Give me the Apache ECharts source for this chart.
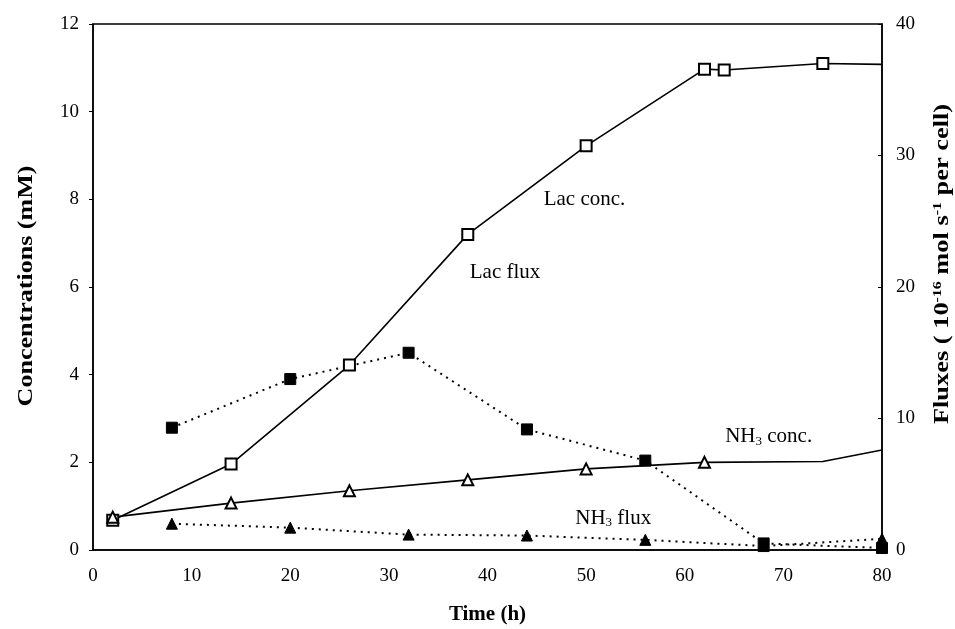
<!DOCTYPE html>
<html>
<head>
<meta charset="utf-8">
<script src="https://cdn.jsdelivr.net/npm/echarts@6/dist/echarts.min.js"></script>
<style>
  html, body { margin: 0; padding: 0; background: #fff; }
  #chart { width: 955px; height: 629px; }
</style>
</head>
<body>
<div id="chart"></div>
<script>
// Culture time (h) and measured values
const lacConcTime = [2, 14, 26, 38, 50, 62, 64, 74];
const lacConc     = [0.68, 1.96, 4.22, 7.2, 9.22, 10.97, 10.95, 11.1];
const lacConcEnd  = [80, 11.08];

const nh3ConcTime = [2, 14, 26, 38, 50, 62];
const nh3Conc     = [0.75, 1.07, 1.35, 1.6, 1.85, 2.0];
const nh3ConcTail = [[62, 2.0], [74, 2.02], [80, 2.28]];

const fluxTime = [8, 20, 32, 44, 56, 68, 80];
const lacFlux  = [9.3, 13.0, 15.0, 9.17, 6.8, 0.5, 0.15];
const nh3Flux  = [2.0, 1.7, 1.17, 1.1, 0.77, 0.3, 0.85];

const xTicks     = [0, 10, 20, 30, 40, 50, 60, 70, 80];
const concTicks  = [0, 2, 4, 6, 8, 10, 12];
const fluxTicks  = [0, 10, 20, 30, 40];

// Axis titles
const xTitle     = 'Time (h)';
const concTitle  = 'Concentrations (mM)';
const fluxTitle  = 'Fluxes ( 10{sup|-16} mol s{sup|-1} per cell)';

// Text annotations, anchored in (time, concentration) units
const notes = [
  { x: 45.7, y: 8.0,  text: 'Lac conc.' },
  { x: 38.2, y: 6.34, text: 'Lac flux' },
  { x: 64.1, y: 2.58, text: 'NH{sub|3} conc.' },
  { x: 48.9, y: 0.73, text: 'NH{sub|3} flux' }
];

const serif = '"Liberation Serif", "DejaVu Serif", serif';
const zip = (xs, ys) => xs.map((x, i) => [x, ys[i]]);

const chart = echarts.init(document.getElementById('chart'));

const dotted = { color: '#000', width: 2, type: [2, 5] };
const solid = { color: '#000', width: 1.6 };

chart.setOption({
  animation: false,
  backgroundColor: '#fff',
  grid: {
    left: 93, right: 73, top: 24, bottom: 79,
    containLabel: false, outerBoundsMode: 'none',
    show: true, borderColor: '#000', borderWidth: 1.5, backgroundColor: 'transparent'
  },
  xAxis: {
    type: 'value', min: xTicks[0], max: xTicks[xTicks.length - 1], interval: 10,
    name: xTitle, nameLocation: 'middle', nameGap: 54,
    nameTextStyle: { fontFamily: serif, fontWeight: 'bold', fontSize: 21, color: '#000' },
    axisLine: { show: true, lineStyle: { color: '#000', width: 1.5 } },
    axisTick: { show: false },
    splitLine: { show: false },
    axisLabel: { fontFamily: serif, fontSize: 19, color: '#000', margin: 17 }
  },
  yAxis: [
    {
      type: 'value', min: concTicks[0], max: concTicks[concTicks.length - 1], interval: 2,
      position: 'left',
      axisLine: { show: true, lineStyle: { color: '#000', width: 1.5 } },
      axisTick: { show: true, length: 4, lineStyle: { color: '#000' } },
      splitLine: { show: false },
      axisLabel: { fontFamily: serif, fontSize: 19, color: '#000', margin: 14 }
    },
    {
      type: 'value', min: fluxTicks[0], max: fluxTicks[fluxTicks.length - 1], interval: 10,
      position: 'right',
      axisLine: { show: true, lineStyle: { color: '#000', width: 1.5 } },
      axisTick: { show: true, inside: true, length: 4, lineStyle: { color: '#000' } },
      splitLine: { show: false },
      axisLabel: { fontFamily: serif, fontSize: 19, color: '#000', margin: 14 }
    }
  ],
  series: [
    {
      name: 'Lac flux', type: 'line', yAxisIndex: 1, z: 3,
      data: zip(fluxTime, lacFlux),
      symbol: 'rect', symbolSize: 11,
      itemStyle: { color: '#000', borderColor: '#000' },
      lineStyle: dotted
    },
    {
      name: 'NH3 flux', type: 'line', yAxisIndex: 1, z: 3,
      data: zip(fluxTime, nh3Flux),
      symbol: 'triangle', symbolSize: 11,
      itemStyle: { color: '#000', borderColor: '#000' },
      lineStyle: dotted
    },
    {
      name: 'Lac conc.', type: 'line', yAxisIndex: 0, z: 4,
      data: zip(lacConcTime, lacConc).map(v => ({ value: v }))
        .concat([{ value: lacConcEnd, symbol: 'none' }]),
      symbol: 'rect', symbolSize: 11, showAllSymbol: true,
      itemStyle: { color: '#fff', borderColor: '#000', borderWidth: 2 },
      lineStyle: solid
    },
    {
      name: 'NH3 conc. tail', type: 'line', yAxisIndex: 0, z: 2,
      data: nh3ConcTail, showSymbol: false, symbol: 'none',
      lineStyle: solid
    },
    {
      name: 'NH3 conc.', type: 'line', yAxisIndex: 0, z: 4,
      data: zip(nh3ConcTime, nh3Conc),
      symbol: 'triangle', symbolSize: 11,
      itemStyle: { color: '#fff', borderColor: '#000', borderWidth: 2 },
      lineStyle: solid
    }
  ]
});

// Series annotations placed through the axis scales
const noteGraphics = notes.map(n => {
  const p = chart.convertToPixel({ xAxisIndex: 0, yAxisIndex: 0 }, [n.x, n.y]);
  return {
    type: 'text', x: p[0], y: p[1], z: 10, silent: true,
    style: {
      text: n.text, fill: '#000', font: '21px ' + serif,
      verticalAlign: 'middle',
      rich: { sub: { fill: '#000', font: '13px ' + serif, verticalAlign: 'bottom', padding: [10, 0, 0, 0] } }
    }
  };
});

// Vertical axis titles, set in a wide bold serif reading bottom to top
const titleGraphics = [
  {
    type: 'text', x: 27, y: 286, rotation: Math.PI / 2, scaleX: 1.24, z: 10, silent: true,
    style: { text: concTitle, fill: '#000', font: 'bold 21px ' + serif, align: 'center', verticalAlign: 'middle' }
  },
  {
    type: 'text', x: 943, y: 264, rotation: Math.PI / 2, scaleX: 1.32, z: 10, silent: true,
    style: {
      text: fluxTitle, fill: '#000', font: 'bold 20px ' + serif, align: 'center', verticalAlign: 'middle',
      rich: { sup: { fill: '#000', font: 'bold 12px ' + serif, verticalAlign: 'top', padding: [0, 0, 11, 0] } }
    }
  }
];

chart.setOption({ graphic: noteGraphics.concat(titleGraphics) });
</script>
</body>
</html>
